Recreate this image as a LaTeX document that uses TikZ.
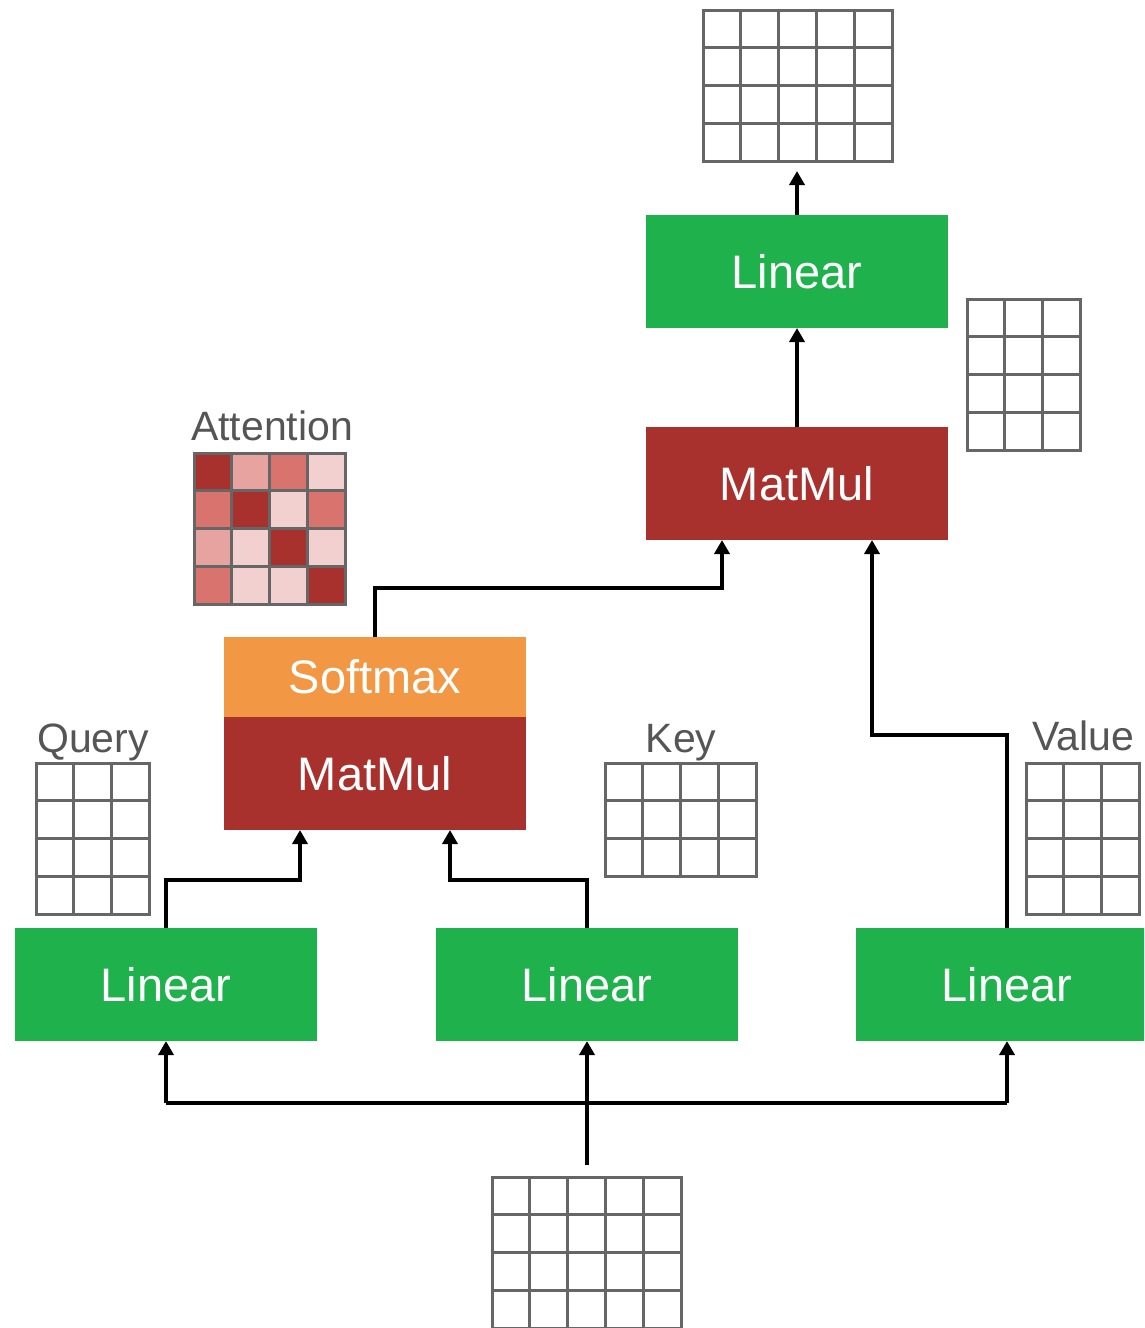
\documentclass[tikz,border=0pt]{standalone}
\usepackage{fontspec}
\setmainfont{Liberation Sans}
\usetikzlibrary{arrows.meta}

\definecolor{lingreen}{HTML}{1FB14C}
\definecolor{mmred}{HTML}{A8312E}
\definecolor{smorange}{HTML}{F29845}
\definecolor{gridgray}{HTML}{666666}
\definecolor{labelgray}{HTML}{555555}
\definecolor{attA}{HTML}{A8312E}
\definecolor{attB}{HTML}{D9736E}
\definecolor{attC}{HTML}{E6A3A0}
\definecolor{attD}{HTML}{F2D0CF}

% matrix sketch: left x, top y, columns, rows
\newcommand\matgrid[4]{%
  \foreach \i in {0,...,#3}{\draw[gridline] ({#1+\i*37.8},#2) -- ({#1+\i*37.8},{#2+#4*37.8});}
  \foreach \j in {0,...,#4}{\draw[gridline] ({#1-1.5},{#2+\j*37.8}) -- ({#1+#3*37.8+1.5},{#2+\j*37.8});}
}

\begin{document}
\begin{tikzpicture}[x=1pt,y=-1pt,
  block/.style={minimum width=302pt, minimum height=113pt, inner sep=0pt, outer sep=0pt,
    text=white, font=\fontsize{47}{47}\selectfont, anchor=north west},
  lbl/.style={text=labelgray, font=\fontsize{41}{41}\selectfont, anchor=base, inner sep=0pt},
  gridline/.style={draw=gridgray, line width=3pt},
  wire/.style={draw=black, line width=3.8pt},
  conn/.style={wire, -{Triangle[width=15pt,length=14pt]}},
]
\useasboundingbox (0,0) rectangle (1144,1328);
\clip (0,0) rectangle (1144,1328);

% processing blocks
\node[block, fill=lingreen] (linTop) at (646,215) {Linear};
\node[block, fill=mmred] (mmTop) at (646,427) {MatMul};
\node[block, fill=smorange, minimum height=80pt] (soft) at (224,637) {Softmax};
\node[block, fill=mmred] (mmLow) at (224,717) {MatMul};
\node[block, fill=lingreen] (linQ) at (15,928) {Linear};
\node[block, fill=lingreen] (linK) at (436,928) {Linear};
\node[block, fill=lingreen] (linV) at (856,928) {Linear};

% labels
\node[lbl] (attLab) at (272,440) {Attention};
\node[lbl] (qLab) at (93,752) {Query};
\node[lbl] (kLab) at (681,752) {Key};
\node[lbl] (vLab) at (1083,750) {Value};

% attention weights
\foreach \r/\c/\col in {0/0/attA,0/1/attC,0/2/attB,0/3/attD,
                        1/0/attB,1/1/attA,1/2/attD,1/3/attB,
                        2/0/attC,2/1/attD,2/2/attA,2/3/attD,
                        3/0/attB,3/1/attD,3/2/attD,3/3/attA}{
  \fill[\col] ({194+\c*37.8},{453+\r*37.8}) rectangle ++(37.8,37.8);
}
\matgrid{194}{453}{4}{4}

% tensors
\matgrid{703}{10}{5}{4}
\matgrid{967}{299}{3}{4}
\matgrid{36}{763}{3}{4}
\matgrid{605}{763}{4}{3}
\matgrid{1026}{763}{3}{4}
\matgrid{492}{1177}{5}{4}

% connectors
\coordinate (outIn) at (797,171);
\coordinate (sTurn) at (375,588);
\coordinate (vTurn) at (1007,735);
\coordinate (qTurn) at (166,880);
\coordinate (kTurn) at (587,880);
\coordinate (src) at (587,1165);
\coordinate (busL) at (166,1103);
\coordinate (busR) at (1007,1103);

\draw[conn] (linTop.north) -- (outIn);
\draw[conn] (mmTop.north) -- (linTop.south);
\draw[conn] (soft.north) -- (sTurn) -| ([xshift=-75pt]mmTop.south);
\draw[conn] (linV.north) -- (vTurn) -| ([xshift=75pt]mmTop.south);
\draw[conn] (linQ.north) -- (qTurn) -| ([xshift=-75pt]mmLow.south);
\draw[conn] (linK.north) -- (kTurn) -| ([xshift=75pt]mmLow.south);

\draw[wire] (busL) -- (busR);
\draw[conn] (busL) -- (linQ.south);
\draw[conn] (busR) -- (linV.south);
\draw[conn] (src) -- (linK.south);
\end{tikzpicture}
\end{document}
